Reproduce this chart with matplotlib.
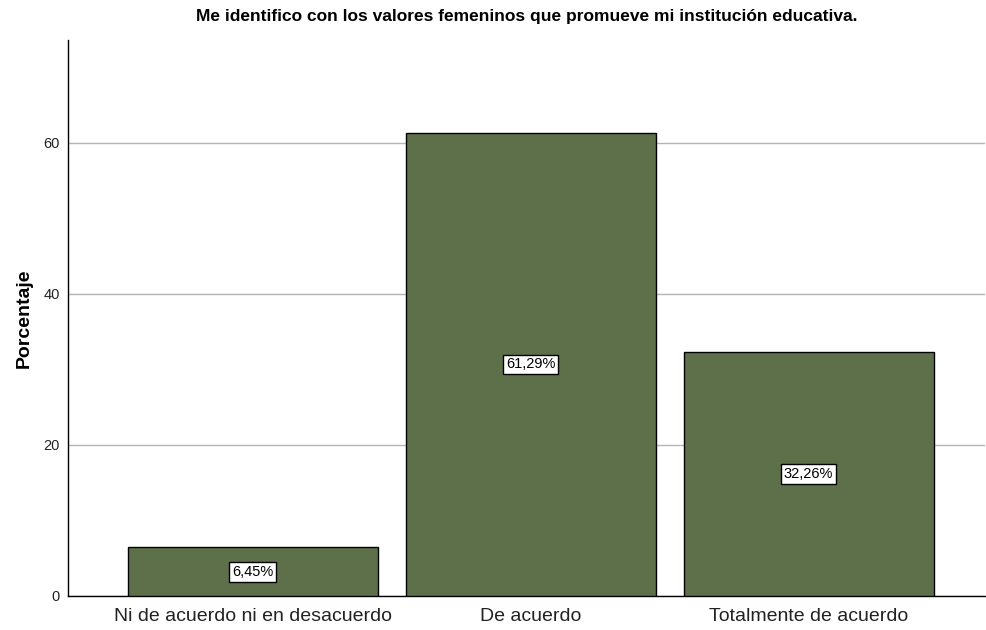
import numpy as np
import matplotlib.pyplot as plt

plt.rcParams['font.family'] = ['Liberation Sans', 'DejaVu Sans']

categorias = ['Ni de acuerdo ni en desacuerdo', 'De acuerdo', 'Totalmente de acuerdo']
porcentajes = [6.45, 61.29, 32.26]
etiquetas = ['6,45%', '61,29%', '32,26%']
y_ticks = [0, 20, 40, 60]

fig = plt.figure(figsize=(9.87, 6.3), dpi=100)
ax = fig.add_axes([0.069, 0.054, 0.929, 0.8825])

x = np.arange(len(categorias))
ax.bar(x, porcentajes, width=0.9, color='#5d7049', edgecolor='black', linewidth=1, zorder=3)

for xi, v, lab in zip(x, porcentajes, etiquetas):
    ax.text(xi, v / 2, lab, ha='center', va='center', fontsize=10.5, zorder=4,
            bbox=dict(boxstyle='square,pad=0.2', fc='white', ec='black', lw=1))

ax.set_xlim(-0.665, 2.635)
ax.set_ylim(0, 73.6)
ax.set_yticks(y_ticks)
ax.set_xticks(x)
ax.set_xticklabels(categorias, fontsize=14, color='#222222')
ax.tick_params(axis='y', labelsize=10.5, length=0, pad=6, labelcolor='#222222')
ax.tick_params(axis='x', length=0, pad=9)
ax.yaxis.grid(True, color='#b4b4b4', linewidth=1, zorder=0)
for s in ['top', 'right']:
    ax.spines[s].set_visible(False)
ax.spines['left'].set_linewidth(1)
ax.spines['bottom'].set_linewidth(1)

ax.set_ylabel('Porcentaje', fontsize=14, fontweight='bold', labelpad=8)
fig.suptitle('Me identifico con los valores femeninos que promueve mi institución educativa.',
             fontsize=12.5, fontweight='bold', x=0.534, y=0.985)

fig.savefig('out.png', dpi=100)
